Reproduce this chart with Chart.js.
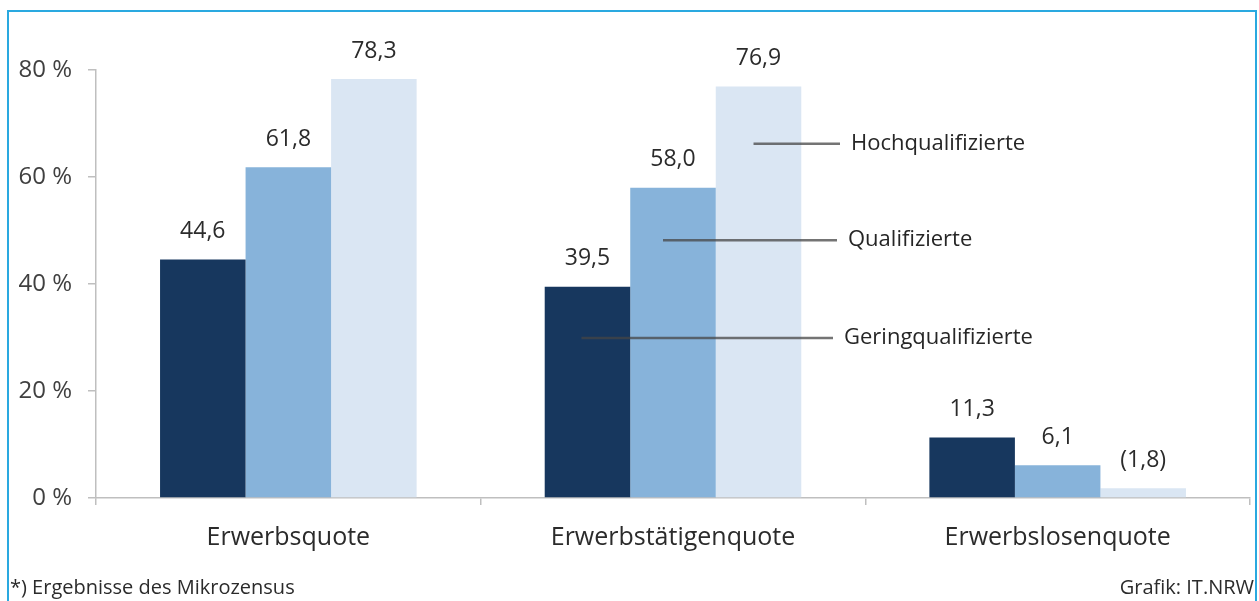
<!DOCTYPE html>
<html><head><meta charset="utf-8">
<script src="https://cdn.jsdelivr.net/npm/chart.js@4/dist/chart.umd.min.js"></script>
<style>
html,body{margin:0;padding:0;background:#fff;}
#wrap{position:relative;width:1259px;height:601px;overflow:hidden;}
#frame{position:absolute;left:7px;top:10px;width:1250px;height:620px;border:2px solid #2AA9E0;box-sizing:border-box;}
canvas{position:absolute;left:0;top:0;}
</style></head>
<body><div id="wrap"><div id="frame"></div><canvas id="c" width="1259" height="601"></canvas></div>
<script>
const categories = ["Erwerbsquote", "Erwerbstätigenquote", "Erwerbslosenquote"];
const seriesNames = ["Geringqualifizierte", "Qualifizierte", "Hochqualifizierte"];
const gering = [44.6, 39.5, 11.3];
const qualif = [61.8, 58.0, 6.1];
const hoch = [78.3, 76.9, 1.8];
const valueLabels = [["44,6","39,5","11,3"],["61,8","58,0","6,1"],["78,3","76,9","(1,8)"]];
const yTicks = [0, 20, 40, 60, 80];
const legendYValues = [29.9, 48.2, 66.2];
const footLeft = "*) Ergebnisse des Mikrozensus";
const footRight = "Grafik: IT.NRW";

const FONT = "'Open Sans', sans-serif";
const colors = ["#17375E", "#87B3DA", "#DAE6F3"];

const overlay = {
  id: 'overlay',
  afterDatasetsDraw(chart) {
    const ctx = chart.ctx;
    const y = chart.scales.y;
    ctx.save();
    // value labels
    ctx.font = "23px " + FONT;
    ctx.fillStyle = "#2B2B2B";
    ctx.textAlign = "center";
    ctx.textBaseline = "middle";
    chart.data.datasets.forEach((ds, di) => {
      const meta = chart.getDatasetMeta(di);
      meta.data.forEach((bar, i) => {
        ctx.fillText(valueLabels[di][i], bar.x, bar.y - 28);
      });
    });
    // legend leader lines (on category 2)
    const offs = [-6, -10, -5];
    const ends = [833, 837, 840];
    ctx.font = "22px " + FONT;
    ctx.textAlign = "left";
    ctx.textBaseline = "middle";
    for (let di = 0; di < 3; di++) {
      const bar = chart.getDatasetMeta(di).data[1];
      const yy = y.getPixelForValue(legendYValues[di]);
      ctx.strokeStyle = "rgba(70,70,70,0.75)";
      ctx.lineWidth = 2.5;
      ctx.beginPath();
      ctx.moveTo(bar.x + offs[di], yy);
      ctx.lineTo(ends[di], yy);
      ctx.stroke();
      ctx.fillStyle = "#262626";
      ctx.fillText(seriesNames[di], ends[di] + 11, yy);
    }
    // footer
    ctx.font = "20px " + FONT;
    ctx.fillStyle = "#2B2B2B";
    ctx.textBaseline = "middle";
    ctx.textAlign = "left";
    ctx.fillText(footLeft, 10, 588);
    ctx.textAlign = "right";
    ctx.fillText(footRight, 1254, 588);
    ctx.restore();
  }
};

new Chart(document.getElementById('c'), {
  type: 'bar',
  data: {
    labels: categories,
    datasets: [
      { label: seriesNames[0], data: gering, backgroundColor: colors[0] },
      { label: seriesNames[1], data: qualif, backgroundColor: colors[1] },
      { label: seriesNames[2], data: hoch, backgroundColor: colors[2] }
    ]
  },
  options: {
    responsive: false,
    animation: false,
    events: [],
    layout: { padding: { left: 0, right: 9, top: 70, bottom: 0 } },
    datasets: { bar: { barPercentage: 1.0, categoryPercentage: 0.667, borderWidth: 0 } },
    plugins: { legend: { display: false }, tooltip: { enabled: false } },
    scales: {
      x: {
        afterFit(s) { s.height = 103; },
        grid: { drawOnChartArea: false, drawTicks: true, tickLength: 7, color: "#BFBFBF", lineWidth: 1.5 },
        border: { color: "#BFBFBF", width: 1.5 },
        ticks: { color: "#2B2B2B", font: { family: FONT, size: 25 }, padding: 18 }
      },
      y: {
        min: 0, max: 80,
        afterFit(s) { s.width = 96; },
        afterBuildTicks(s) { s.ticks = yTicks.map(v => ({ value: v })); },
        grid: { drawOnChartArea: false, drawTicks: true, tickLength: 8, color: "#BFBFBF", lineWidth: 1.5 },
        border: { color: "#BFBFBF", width: 1.5 },
        ticks: { color: "#404040", font: { family: FONT, size: 24 }, padding: 16, callback: v => v + " %" }
      }
    }
  },
  plugins: [overlay]
});
</script></body></html>
